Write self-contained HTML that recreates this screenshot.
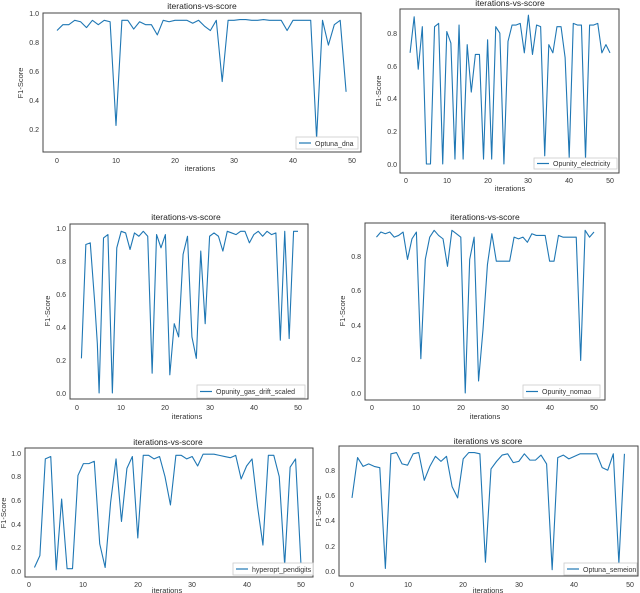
<!DOCTYPE html>
<html><head><meta charset="utf-8"><style>
html,body{margin:0;padding:0;background:#fff}
svg{display:block}
text{font-family:"Liberation Sans",sans-serif;fill:#333}
.t{font-size:7px}
.ti{font-size:8.5px;fill:#222}
.lb{font-size:7.5px}
.ax{fill:none;stroke:#444;stroke-width:1}
.ln{fill:none;stroke:#1f77b4;stroke-width:1.1;vector-effect:non-scaling-stroke;stroke-linejoin:round}
.lg{fill:#fff;stroke:#ccc;stroke-width:0.8}
.tk{stroke:#444;stroke-width:0.8}
</style></head><body>
<svg width="640" height="593" viewBox="0 0 640 593" xmlns="http://www.w3.org/2000/svg">

<!-- Panel 1 -->
<rect class="ax" x="43" y="13" width="318" height="139"/>
<text class="ti" x="202" y="9" text-anchor="middle">iterations-vs-score</text>
<g class="t" text-anchor="end">
<text x="39" y="132">0.2</text><text x="39" y="103">0.4</text><text x="39" y="74">0.6</text><text x="39" y="45">0.8</text><text x="39" y="16">1.0</text>
</g>
<g class="t" text-anchor="middle">
<text x="57" y="163">0</text><text x="116" y="163">10</text><text x="175" y="163">20</text><text x="234" y="163">30</text><text x="293" y="163">40</text><text x="352" y="163">50</text>
</g>
<text class="lb" x="200" y="171" text-anchor="middle">iterations</text>
<text class="lb" transform="translate(23,83) rotate(-90)" text-anchor="middle">F1-Score</text>
<g transform="translate(57,159) scale(5.9,-146)">
<polyline class="ln" points="0,.88 1,.92 2,.92 3,.95 4,.94 5,.90 6,.95 7,.92 8,.95 9,.94 10,.23 11,.95 12,.95 13,.89 14,.94 15,.92 16,.92 17,.85 18,.95 19,.94 20,.95 21,.95 22,.95 23,.93 24,.95 25,.91 26,.88 27,.95 28,.53 29,.95 30,.95 31,.955 32,.955 33,.95 34,.95 35,.955 36,.95 37,.95 38,.95 39,.88 40,.95 41,.95 42,.95 43,.95 44,.14 45,.95 46,.78 47,.92 48,.95 49,.46"/>
</g>
<rect class="lg" x="296" y="137" width="62" height="12"/>
<line x1="299" y1="143" x2="311" y2="143" stroke="#1f77b4" stroke-width="1.2"/>
<text class="t" x="315" y="146">Optuna_dna</text>

<!-- Panel 2 -->
<rect class="ax" x="400" y="9" width="219" height="164"/>
<text class="ti" x="510" y="6" text-anchor="middle">iterations-vs-score</text>
<g class="t" text-anchor="end">
<text x="397" y="167">0.0</text><text x="397" y="134">0.2</text><text x="397" y="101">0.4</text><text x="397" y="69">0.6</text><text x="397" y="36">0.8</text>
</g>
<g class="t" text-anchor="middle">
<text x="406" y="183">0</text><text x="447" y="183">10</text><text x="488" y="183">20</text><text x="528" y="183">30</text><text x="569" y="183">40</text><text x="610" y="183">50</text>
</g>
<text class="lb" x="510" y="191" text-anchor="middle">iterations</text>
<text class="lb" transform="translate(381,91) rotate(-90)" text-anchor="middle">F1-Score</text>
<g transform="translate(406,164) scale(4.08,-163.5)">
<polyline class="ln" points="1,.68 2,.90 3,.58 4,.84 5,0 6,0 7,.84 8,.86 9,0 10,.81 11,.74 12,.03 13,.85 14,.03 15,.73 16,.44 17,.67 18,.67 19,.03 20,.76 21,.03 22,.84 23,.80 24,0 25,.75 26,.85 27,.85 28,.86 29,.68 30,.91 31,.67 32,.85 33,.84 34,.05 35,.73 36,.68 37,.84 38,.84 39,.65 40,.04 41,.86 42,.85 43,.85 44,.03 45,.85 46,.85 47,.86 48,.68 49,.73 50,.68"/>
</g>
<rect class="lg" x="534" y="158" width="83" height="11"/>
<line x1="537" y1="163.5" x2="549" y2="163.5" stroke="#1f77b4" stroke-width="1.2"/>
<text class="t" x="553" y="166">Opunity_electricity</text>

<!-- Panel 3 -->
<rect class="ax" x="70" y="224" width="238" height="175"/>
<text class="ti" x="186" y="220" text-anchor="middle">iterations-vs-score</text>
<g class="t" text-anchor="end">
<text x="66" y="396">0.0</text><text x="66" y="363">0.2</text><text x="66" y="330">0.4</text><text x="66" y="297">0.6</text><text x="66" y="264">0.8</text><text x="66" y="231">1.0</text>
</g>
<g class="t" text-anchor="middle">
<text x="77" y="410">0</text><text x="121" y="410">10</text><text x="165" y="410">20</text><text x="210" y="410">30</text><text x="254" y="410">40</text><text x="298" y="410">50</text>
</g>
<text class="lb" x="187" y="419" text-anchor="middle">iterations</text>
<text class="lb" transform="translate(50,311) rotate(-90)" text-anchor="middle">F1-Score</text>
<g transform="translate(77,393) scale(4.42,-165)">
<polyline class="ln" points="1,.21 2,.90 3,.91 4,.55 4.6,.30 5,0 6,.94 7,.96 8,0 9,.88 10,.98 11,.97 12,.87 13,.97 14,.95 15,.98 16,.95 17,.12 18,.96 19,.88 20,.96 21,.11 22,.42 23,.34 24,.84 25,.95 26,.34 27,.21 28,.86 29,.42 30,.95 31,.97 32,.95 33,.86 34,.98 35,.97 36,.96 37,.98 38,.98 39,.91 40,.96 41,.98 42,.95 43,.98 44,.96 45,.97 46,.32 47,.98 48,.33 49,.98 50,.98"/>
</g>
<rect class="lg" x="197" y="385" width="108" height="13"/>
<line x1="200" y1="391.5" x2="212" y2="391.5" stroke="#1f77b4" stroke-width="1.2"/>
<text class="t" x="216" y="394">Opunity_gas_drift_scaled</text>

<!-- Panel 4 -->
<rect class="ax" x="365" y="223" width="240" height="177"/>
<text class="ti" x="485" y="220" text-anchor="middle">iterations-vs-score</text>
<g class="t" text-anchor="end">
<text x="361" y="396">0.0</text><text x="361" y="362">0.2</text><text x="361" y="328">0.4</text><text x="361" y="293">0.6</text><text x="361" y="259">0.8</text>
</g>
<g class="t" text-anchor="middle">
<text x="372" y="410">0</text><text x="416" y="410">10</text><text x="461" y="410">20</text><text x="505" y="410">30</text><text x="550" y="410">40</text><text x="594" y="410">50</text>
</g>
<text class="lb" x="485" y="419" text-anchor="middle">iterations</text>
<text class="lb" transform="translate(345,311) rotate(-90)" text-anchor="middle">F1-Score</text>
<g transform="translate(372,393) scale(4.44,-171.25)">
<polyline class="ln" points="1,.91 2,.94 3,.93 4,.94 5,.91 6,.92 7,.94 8,.78 9,.90 10,.94 11,.20 12,.78 13,.91 14,.95 15,.92 16,.90 17,.74 18,.95 19,.93 20,.91 21,0 22,.78 23,.91 24,.07 25,.37 26,.75 27,.93 28,.77 29,.77 30,.77 31,.77 32,.91 33,.90 34,.91 35,.88 36,.93 37,.92 38,.92 39,.92 40,.77 41,.77 42,.92 43,.91 44,.91 45,.91 46,.91 47,.19 48,.95 49,.91 50,.94"/>
</g>
<rect class="lg" x="523" y="385" width="77" height="13"/>
<line x1="526" y1="391.5" x2="538" y2="391.5" stroke="#1f77b4" stroke-width="1.2"/>
<text class="t" x="542" y="394">Opunity_nomao</text>

<!-- Panel 5 -->
<rect class="ax" x="25" y="448" width="288" height="129"/>
<text class="ti" x="168" y="445" text-anchor="middle">iterations-vs-score</text>
<g class="t" text-anchor="end">
<text x="21" y="574">0.0</text><text x="21" y="550">0.2</text><text x="21" y="527">0.4</text><text x="21" y="503">0.6</text><text x="21" y="479">0.8</text><text x="21" y="456">1.0</text>
</g>
<g class="t" text-anchor="middle">
<text x="29" y="587">0</text><text x="83" y="587">10</text><text x="138" y="587">20</text><text x="192" y="587">30</text><text x="247" y="587">40</text><text x="301" y="587">50</text>
</g>
<text class="lb" x="167" y="593" text-anchor="middle">iterations</text>
<text class="lb" transform="translate(6,513) rotate(-90)" text-anchor="middle">F1-Score</text>
<g transform="translate(29,571) scale(5.44,-118)">
<polyline class="ln" points="1,.03 2,.13 3,.95 4,.97 5,.01 6,.61 7,.02 8,.02 9,.81 10,.91 11,.91 12,.93 13,.23 14,.03 15,.58 16,.95 17,.42 18,.87 19,.97 20,.28 21,.98 22,.98 23,.95 24,.97 25,.80 26,.56 27,.98 28,.98 29,.95 30,.97 31,.89 32,.99 33,.99 34,.99 35,.98 36,.97 37,.96 38,.98 39,.78 40,.89 41,.95 42,.55 43,.22 44,.98 45,.98 46,.80 47,.05 48,.88 49,.95 50,.05"/>
</g>
<rect class="lg" x="233" y="563" width="80" height="12"/>
<line x1="236" y1="569" x2="248" y2="569" stroke="#1f77b4" stroke-width="1.2"/>
<text class="t" x="252" y="572">hyperopt_pendigits</text>

<!-- Panel 6 -->
<rect class="ax" x="339" y="446" width="299" height="130"/>
<text class="ti" x="488" y="444" text-anchor="middle">iterations vs score</text>
<g class="t" text-anchor="end">
<text x="335" y="574">0.0</text><text x="335" y="549">0.2</text><text x="335" y="523">0.4</text><text x="335" y="498">0.6</text><text x="335" y="473">0.8</text>
</g>
<g class="t" text-anchor="middle">
<text x="352" y="587">0</text><text x="408" y="587">10</text><text x="463" y="587">20</text><text x="519" y="587">30</text><text x="574" y="587">40</text><text x="630" y="587">50</text>
</g>
<text class="lb" x="488" y="593" text-anchor="middle">iterations</text>
<text class="lb" transform="translate(321,511) rotate(-90)" text-anchor="middle">F1-Score</text>
<g transform="translate(352,571) scale(5.56,-126)">
<polyline class="ln" points="0,.58 1,.90 2,.83 3,.85 4,.83 5,.82 6,.02 7,.93 8,.94 9,.85 10,.84 11,.93 12,.94 13,.72 14,.83 15,.91 16,.87 17,.91 18,.67 19,.58 20,.89 21,.94 22,.94 23,.93 24,.07 25,.81 26,.87 27,.92 28,.93 29,.86 30,.87 31,.93 32,.88 33,.88 34,.92 35,.85 36,.01 37,.90 38,.92 39,.89 40,.91 41,.93 42,.93 43,.93 44,.93 45,.82 46,.80 47,.93 48,.06 49,.93"/>
</g>
<rect class="lg" x="564" y="563" width="73" height="12"/>
<line x1="567" y1="569" x2="579" y2="569" stroke="#1f77b4" stroke-width="1.2"/>
<text class="t" x="583" y="572">Optuna_semeion</text>

</svg>
</body></html>
